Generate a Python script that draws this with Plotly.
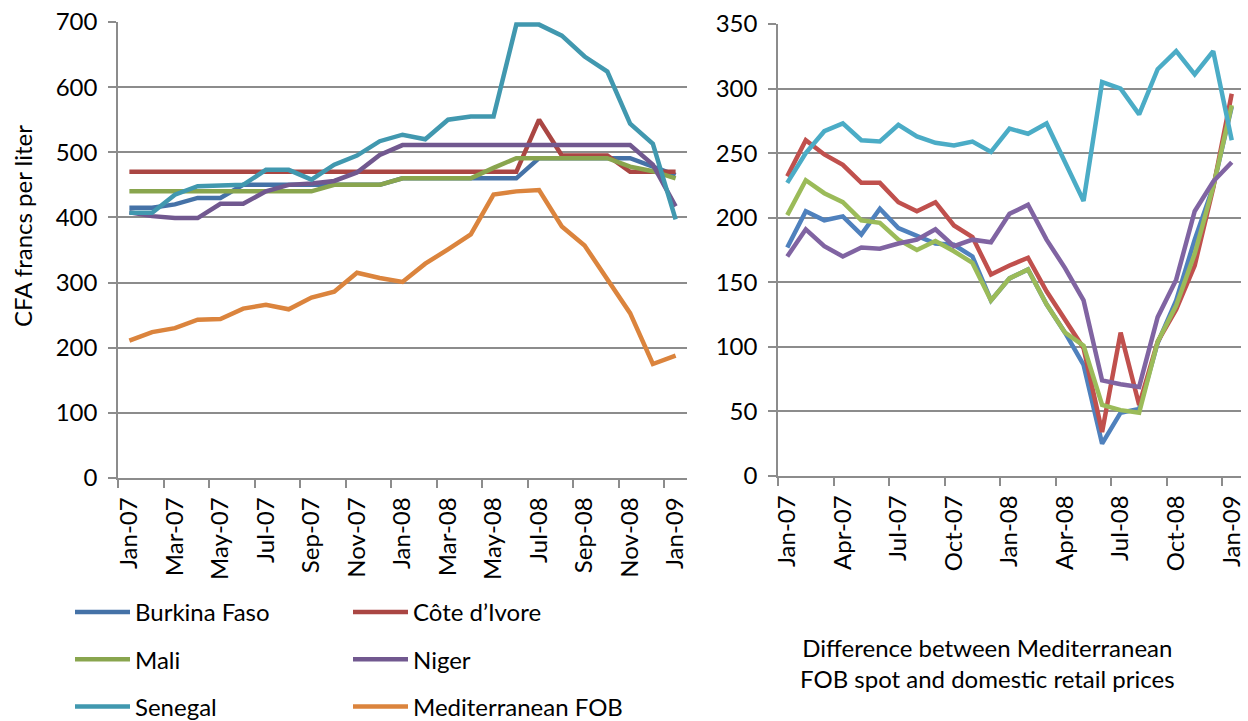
import plotly.graph_objects as go

months = ["Jan-07", "Feb-07", "Mar-07", "Apr-07", "May-07", "Jun-07", "Jul-07", "Aug-07",
          "Sep-07", "Oct-07", "Nov-07", "Dec-07", "Jan-08", "Feb-08", "Mar-08", "Apr-08",
          "May-08", "Jun-08", "Jul-08", "Aug-08", "Sep-08", "Oct-08", "Nov-08", "Dec-08", "Jan-09"]

# Left panel: retail prices (CFA francs per liter)
burkina = [415, 415, 420, 430, 430, 450, 450, 450, 450, 450, 450, 450, 460, 460, 460, 460,
           460, 460, 491, 491, 491, 491, 491, 478, 465]
cote = [470, 470, 470, 470, 470, 470, 470, 470, 470, 470, 470, 470, 470, 470, 470, 470,
        470, 470, 550, 495, 495, 495, 470, 470, 470]
mali = [440, 440, 440, 440, 440, 440, 440, 440, 440, 450, 450, 450, 460, 460, 460, 460,
        476, 491, 491, 491, 491, 491, 478, 471, 460]
niger = [408, 402, 399, 399, 421, 421, 440, 450, 452, 456, 469, 496, 511, 511, 511, 511,
         511, 511, 511, 511, 511, 511, 511, 481, 417]
senegal = [407, 407, 435, 448, 449, 450, 473, 473, 458, 481, 495, 517, 527, 520, 550, 555,
           555, 696, 696, 679, 647, 624, 544, 513, 397]
fob = [211, 224, 230, 243, 244, 260, 266, 259, 277, 286, 315, 307, 301, 329, 351, 374,
       435, 440, 442, 386, 357, 305, 253, 175, 188]

# Right panel: difference between Mediterranean FOB spot and domestic retail prices
burkina_d = [177, 205, 198, 201, 187, 207, 192, 186, 180, 179, 170, 136, 153, 160, 133, 111,
             86, 25, 49, 52, 103, 136, 183, 224, 286]
cote_d = [232, 260, 249, 241, 227, 227, 212, 205, 212, 194, 185, 156, 163, 169, 143, 121,
          99, 34, 111, 55, 104, 129, 163, 223, 296]
mali_d = [202, 229, 219, 212, 198, 196, 183, 175, 182, 174, 165, 136, 153, 160, 133, 111,
          101, 55, 51, 49, 104, 132, 172, 224, 287]
niger_d = [170, 191, 178, 170, 177, 176, 180, 183, 191, 178, 183, 181, 203, 210, 183, 161,
           136, 74, 71, 69, 123, 152, 205, 228, 243]
senegal_d = [227, 250, 267, 273, 260, 259, 272, 263, 258, 256, 259, 251, 269, 265, 273, 242,
             213, 305, 300, 280, 315, 329, 311, 329, 260]

left_names = ["Burkina Faso", "Côte d’Ivore", "Mali", "Niger", "Senegal", "Mediterranean FOB"]
left_colors = ["#4572A7", "#AA4643", "#89A54E", "#71588F", "#4198AF", "#DB843D"]
right_colors = ["#4F81BD", "#C0504D", "#9BBB59", "#8064A2", "#4BACC6"]

left_ticks = [0, 2, 4, 6, 8, 10, 12, 14, 16, 18, 20, 22, 24]
right_ticks = [0, 3, 6, 9, 12, 15, 18, 21, 24]

x = list(range(len(months)))
FONT = "Lato"
FS = 24
GRID = "#8c8c8c"

fig = go.Figure()
left_series = [burkina, cote, mali, niger, senegal, fob]
legend_of = ["legend", "legend2", "legend", "legend2", "legend", "legend2"]
for name, ys, col, lg in zip(left_names, left_series, left_colors, legend_of):
    fig.add_trace(go.Scatter(x=x, y=ys, mode="lines", name=name,
                             line=dict(color=col, width=4.5),
                             xaxis="x", yaxis="y", legend=lg, legendgroup=name))

right_series = [burkina_d, cote_d, mali_d, niger_d, senegal_d]
for name, ys, col in zip(left_names[:5], right_series, right_colors):
    fig.add_trace(go.Scatter(x=x, y=ys, mode="lines", name=name,
                             line=dict(color=col, width=4.5),
                             xaxis="x2", yaxis="y2", showlegend=False))

W, H = 1248, 721
def px_x(p):
    return p / W
def px_y(p):
    return 1 - p / H

common_x = dict(range=[-0.5, 24.5], showline=True, linecolor=GRID, linewidth=1.5,
                showgrid=False, zeroline=False, ticks="", tickangle=-90,
                tickfont=dict(family=FONT, size=FS, color="black"),
                ticklabelstandoff=8, ticklabeloverflow="allow",
                fixedrange=True, automargin=False)
common_y = dict(showline=True, linecolor=GRID, linewidth=1.5, showgrid=True,
                gridcolor=GRID, gridwidth=1.5, zeroline=False, ticks="outside",
                ticklen=8, tickcolor=GRID, tickwidth=1.5,
                tickfont=dict(family=FONT, size=FS, color="black"),
                ticklabelstandoff=6, fixedrange=True, automargin=False)

fig.update_layout(
    width=W, height=H,
    margin=dict(l=0, r=0, t=0, b=0, autoexpand=False),
    paper_bgcolor="white", plot_bgcolor="white",
    font=dict(family=FONT, size=FS, color="black"),
    xaxis=dict(domain=[px_x(118), px_x(687)], anchor="y",
               tickmode="array", tickvals=left_ticks,
               ticktext=[months[i] for i in left_ticks],
               minor=dict(tickmode="array", tickvals=[i - 0.5 for i in left_ticks],
                          ticks="outside", ticklen=8, tickcolor=GRID, tickwidth=1.5, showgrid=False),
               **common_x),
    yaxis=dict(domain=[px_y(478), px_y(22)], anchor="x", range=[0, 700], dtick=100,
               **common_y),
    xaxis2=dict(domain=[px_x(778), px_x(1241)], anchor="y2",
                tickmode="array", tickvals=right_ticks,
                ticktext=[months[i] for i in right_ticks],
                minor=dict(tickmode="array", tickvals=[i - 0.5 for i in right_ticks],
                           ticks="outside", ticklen=8, tickcolor=GRID, tickwidth=1.5, showgrid=False),
                **common_x),
    yaxis2=dict(domain=[px_y(476), px_y(24)], anchor="x2", range=[0, 350], dtick=50,
                **common_y),
    legend=dict(x=px_x(70), y=px_y(590), xanchor="left", yanchor="top",
                font=dict(family=FONT, size=FS, color="black"),
                tracegroupgap=13, itemwidth=55, bgcolor="rgba(0,0,0,0)"),
    legend2=dict(x=px_x(348), y=px_y(590), xanchor="left", yanchor="top",
                 font=dict(family=FONT, size=FS, color="black"),
                 tracegroupgap=13, itemwidth=55, bgcolor="rgba(0,0,0,0)"),
    annotations=[
        dict(text="CFA francs per liter", xref="paper", yref="paper",
             x=px_x(22), y=px_y(226), xanchor="center", yanchor="middle",
             textangle=-90, showarrow=False, font=dict(family=FONT, size=FS, color="black")),
        dict(text="Difference between Mediterranean<br>FOB spot and domestic retail prices",
             xref="paper", yref="paper", x=px_x(987), y=px_y(663),
             xanchor="center", yanchor="middle", showarrow=False,
             font=dict(family=FONT, size=FS, color="black")),
    ],
)

fig.write_html("out.html",
               config={"displayModeBar": False},
               post_script="document.body.style.margin='0';document.body.style.overflow='hidden';")
